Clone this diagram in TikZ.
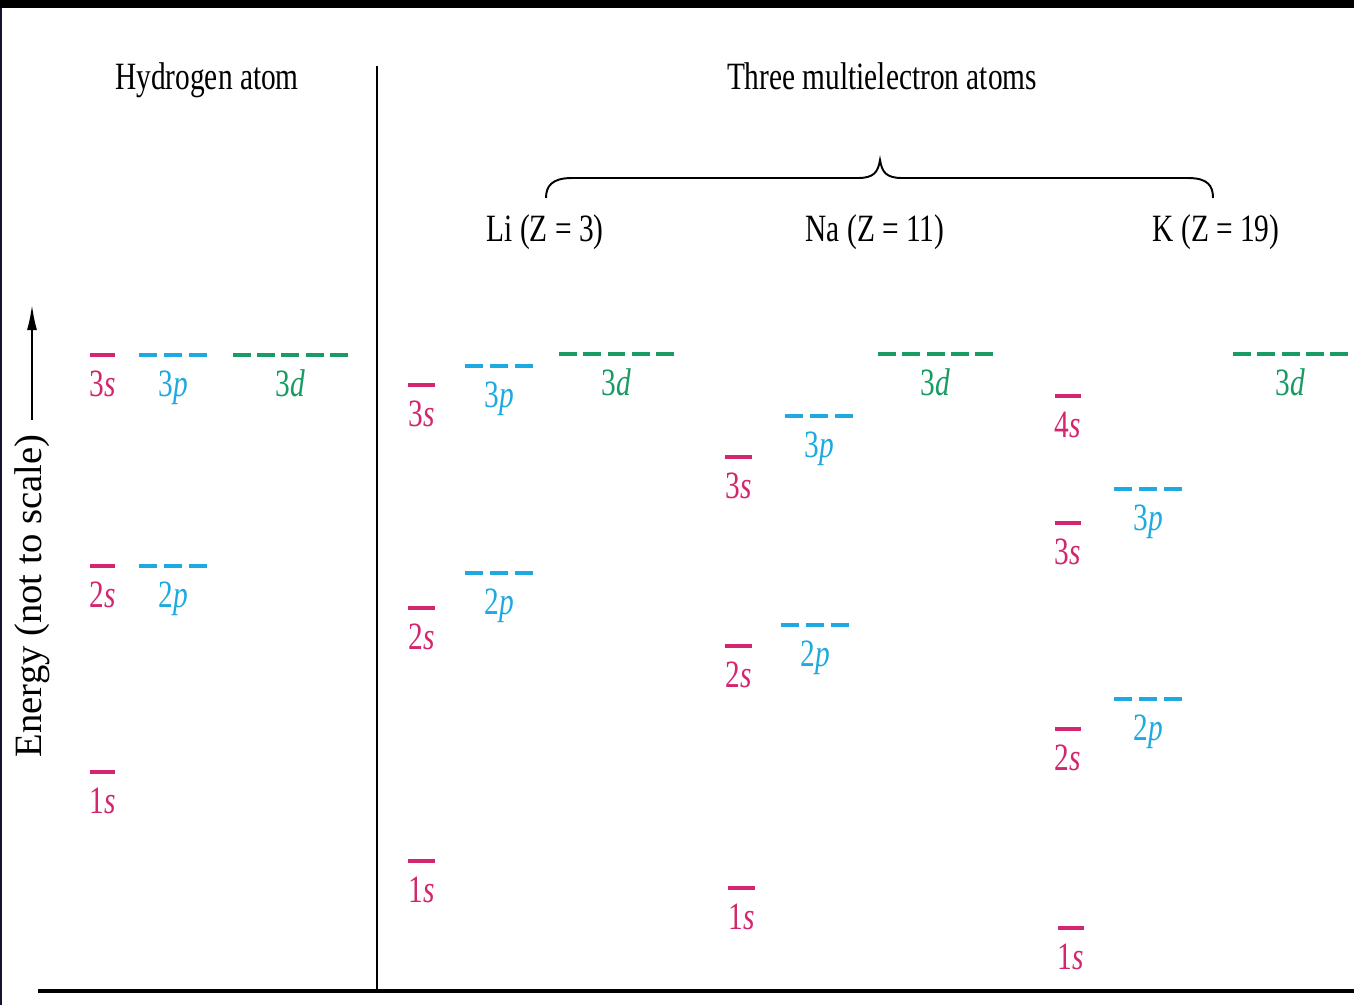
\documentclass[tikz,border=0pt]{standalone}
\usepackage{fontspec}
\setmainfont{Liberation Serif}
\usetikzlibrary{arrows.meta}
\definecolor{scol}{RGB}{212,38,110}
\definecolor{pcol}{RGB}{30,170,225}
\definecolor{dcol}{RGB}{25,155,100}
\definecolor{edgecol}{RGB}{20,20,50}
\tikzset{
  slev/.style={draw=scol,line width=2.3pt},
  plev/.style={draw=pcol,line width=2.3pt,dash pattern=on 0.36cm off 0.14cm},
  dlev/.style={draw=dcol,line width=2.3pt,dash pattern=on 0.36cm off 0.125cm},
  lbl/.style={inner sep=0pt,font=\fontsize{22}{26}\selectfont,xscale=0.76},
  ttl/.style={inner sep=0pt,font=\fontsize{22}{26}\selectfont,xscale=0.76,anchor=base},
}
\newcommand\orb[6]{%
  \draw[#5lev] (#2,#4) -- (#3,#4);
  \node[lbl,text=#5col,anchor=base] (#1) at ({(#2+#3)/2},#4+41) {#6};}
\begin{document}
\begin{tikzpicture}[x=0.02cm,y=-0.02cm]
\useasboundingbox (0,0) rectangle (1354,1005);
\fill[white] (0,0) rectangle (1354,1005);
\fill[black] (0,0) rectangle (1354,8);
\fill[edgecol] (0,8) rectangle (2,1005);
% frame lines
\coordinate (vtop) at (377,66);
\coordinate (vbot) at (377,991);
\coordinate (bl) at (38,991);
\coordinate (br) at (1354,991);
\draw[line width=1.4pt] (vtop) -- (vbot);
\draw[line width=2.2pt] (bl) -- (br);
% titles
\node[ttl] (hyd) at (207,89) {Hydrogen atom};
\node[ttl] (three) at (882,89) {Three multielectron atoms};
\node[ttl] (li) at (545,241) {Li (Z = 3)};
\node[ttl] (na) at (875,241) {Na (Z = 11)};
\node[ttl] (k) at (1216,241) {K (Z = 19)};
% brace
\draw[line width=1.1pt] (546,198) .. controls (546,186) and (552,178) .. (572,178) -- (858,178)
  .. controls (874,178) and (878,172) .. (880,160)
  .. controls (882,172) and (886,178) .. (902,178) -- (1188,178)
  .. controls (1208,178) and (1213,186) .. (1213,198);
% energy axis
\coordinate (ea) at (32,420);
\coordinate (eb) at (32,305);
\draw[line width=1.1pt,-{Latex[length=0.5cm,width=0.2cm]}] (ea) -- (eb);
\node[inner sep=0pt,rotate=90,font=\fontsize{22}{26}\selectfont] (energy) at (32,596) {Energy (not to scale)};
% Hydrogen
\orb{h3s}{90}{115}{355}{s}{3\textit{s}}
\orb{h3p}{139}{207}{355}{p}{3\textit{p}}
\orb{h3d}{233}{348}{355}{d}{3\textit{d}}
\orb{h2s}{90}{115}{566}{s}{2\textit{s}}
\orb{h2p}{139}{207}{566}{p}{2\textit{p}}
\orb{h1s}{90}{115}{772}{s}{1\textit{s}}
% Li
\orb{l3s}{408}{435}{385}{s}{3\textit{s}}
\orb{l3p}{465}{533}{366}{p}{3\textit{p}}
\orb{l3d}{559}{674}{354}{d}{3\textit{d}}
\orb{l2s}{408}{435}{608}{s}{2\textit{s}}
\orb{l2p}{465}{533}{573}{p}{2\textit{p}}
\orb{l1s}{408}{435}{861}{s}{1\textit{s}}
% Na
\orb{n3s}{725}{752}{457}{s}{3\textit{s}}
\orb{n3p}{785}{853}{416}{p}{3\textit{p}}
\orb{n3d}{878}{993}{354}{d}{3\textit{d}}
\orb{n2s}{725}{752}{646}{s}{2\textit{s}}
\orb{n2p}{781}{849}{625}{p}{2\textit{p}}
\orb{n1s}{728}{755}{888}{s}{1\textit{s}}
% K
\orb{k4s}{1055}{1081}{396}{s}{4\textit{s}}
\orb{k3s}{1055}{1081}{523}{s}{3\textit{s}}
\orb{k3p}{1114}{1182}{489}{p}{3\textit{p}}
\orb{k3d}{1233}{1348}{354}{d}{3\textit{d}}
\orb{k2s}{1055}{1081}{729}{s}{2\textit{s}}
\orb{k2p}{1114}{1182}{699}{p}{2\textit{p}}
\orb{k1s}{1058}{1084}{928}{s}{1\textit{s}}
\end{tikzpicture}
\end{document}
